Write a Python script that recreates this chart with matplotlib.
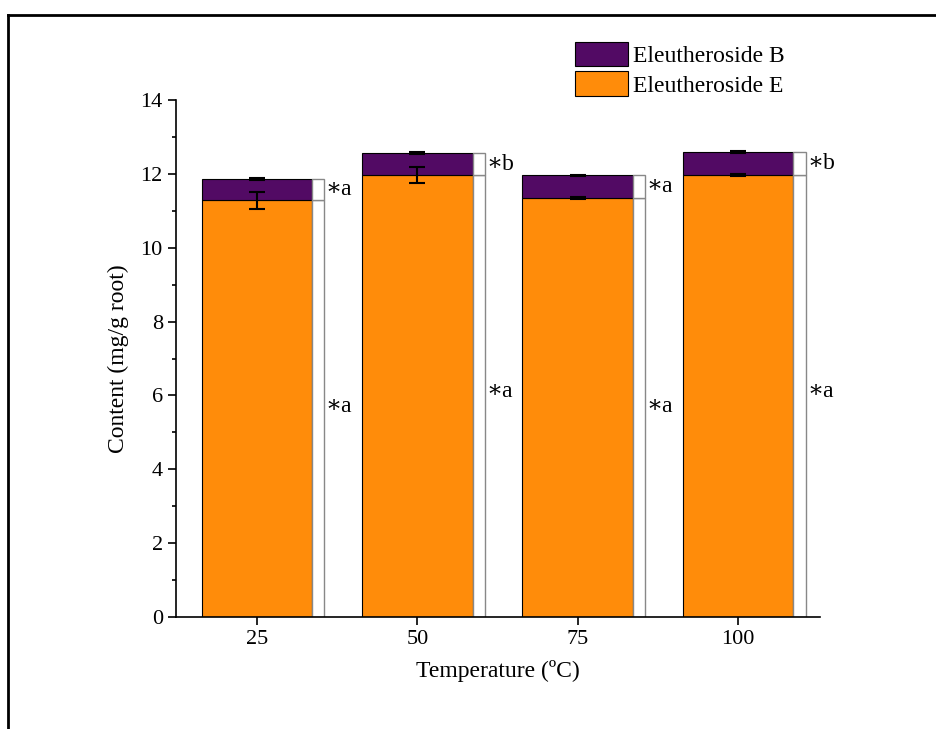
import matplotlib.pyplot as plt
from matplotlib.patches import Rectangle
from matplotlib.lines import Line2D
import numpy as np

plt.rcParams['font.family'] = ['Liberation Serif', 'DejaVu Serif']

temps = ['25', '50', '75', '100']
eleu_e = [11.28, 11.96, 11.34, 11.97]
eleu_e_err = [0.23, 0.22, 0.03, 0.03]
eleu_b = [0.58, 0.60, 0.62, 0.62]
eleu_b_err = [0.02, 0.02, 0.02, 0.02]
sig_e = ['a', 'a', 'a', 'a']
sig_b = ['a', 'b', 'a', 'b']
sig_e_y = [5.7, 6.1, 5.7, 6.1]

fig = plt.figure(figsize=(9.36, 7.29), dpi=100)
ax = fig.add_axes([0.188, 0.1536, 0.688, 0.7092])

x = np.arange(len(temps))
w = 0.69
orange = '#FF8C0A'
purple = '#520A64'
totals = np.array(eleu_e) + np.array(eleu_b)

ax.bar(x, eleu_e, w, color=orange, edgecolor='black', linewidth=0.8, label='Eleutheroside E')
ax.bar(x, eleu_b, w, bottom=eleu_e, color=purple, edgecolor='black', linewidth=0.8, label='Eleutheroside B')
ax.errorbar(x, eleu_e, yerr=eleu_e_err, fmt='none', ecolor='black', capsize=6, elinewidth=1.5, capthick=1.5)
ax.errorbar(x, totals, yerr=eleu_b_err, fmt='none', ecolor='black', capsize=6, elinewidth=1.5, capthick=1.5)

# bracket boxes with significance letters
bw = 0.075
for i in range(len(temps)):
    xr = x[i] + w / 2
    ax.add_patch(Rectangle((xr, 0), bw, eleu_e[i], facecolor='white', edgecolor='#888888', linewidth=1.0))
    ax.add_patch(Rectangle((xr, eleu_e[i]), bw, eleu_b[i], facecolor='white', edgecolor='#888888', linewidth=1.0))
    ax.text(xr + bw + 0.01, sig_e_y[i], '\u2217' + sig_e[i], fontsize=17, va='center', ha='left')
    ax.text(xr + bw + 0.01, eleu_e[i] + eleu_b[i] / 2, '\u2217' + sig_b[i], fontsize=17, va='center', ha='left')

ax.set_xlim(-0.505, 3.51)
ax.set_ylim(0, 14)
ax.set_xticks(x)
ax.set_xticklabels(temps)
ax.set_yticks(np.arange(0, 15, 2))
ax.set_yticks(np.arange(1, 14, 2), minor=True)
ax.tick_params(axis='both', which='major', direction='out', length=6, width=1.2, labelsize=16)
ax.tick_params(axis='y', which='minor', direction='out', length=3, width=1.2)
for s in ['top', 'right']:
    ax.spines[s].set_visible(False)
for s in ['left', 'bottom']:
    ax.spines[s].set_linewidth(1.2)

ax.set_xlabel('Temperature (ºC)', fontsize=17, labelpad=8)
ax.set_ylabel('Content (mg/g root)', fontsize=17, labelpad=8)

handles, labels = ax.get_legend_handles_labels()
ax.legend(handles[::-1], labels[::-1], loc='upper left', bbox_to_anchor=(0.62, 1.112),
          frameon=False, fontsize=17, handlelength=2.25, handleheight=1.2,
          handletextpad=0.2, labelspacing=0.18, borderaxespad=0, borderpad=0)

# outer frame (partially visible)
fig.add_artist(Line2D([0.0085, 1.0], [0.9794, 0.9794], color='black', linewidth=2))
fig.add_artist(Line2D([0.0085, 0.0085], [0.0, 0.9794], color='black', linewidth=2))

fig.savefig('out.png', dpi=100)
